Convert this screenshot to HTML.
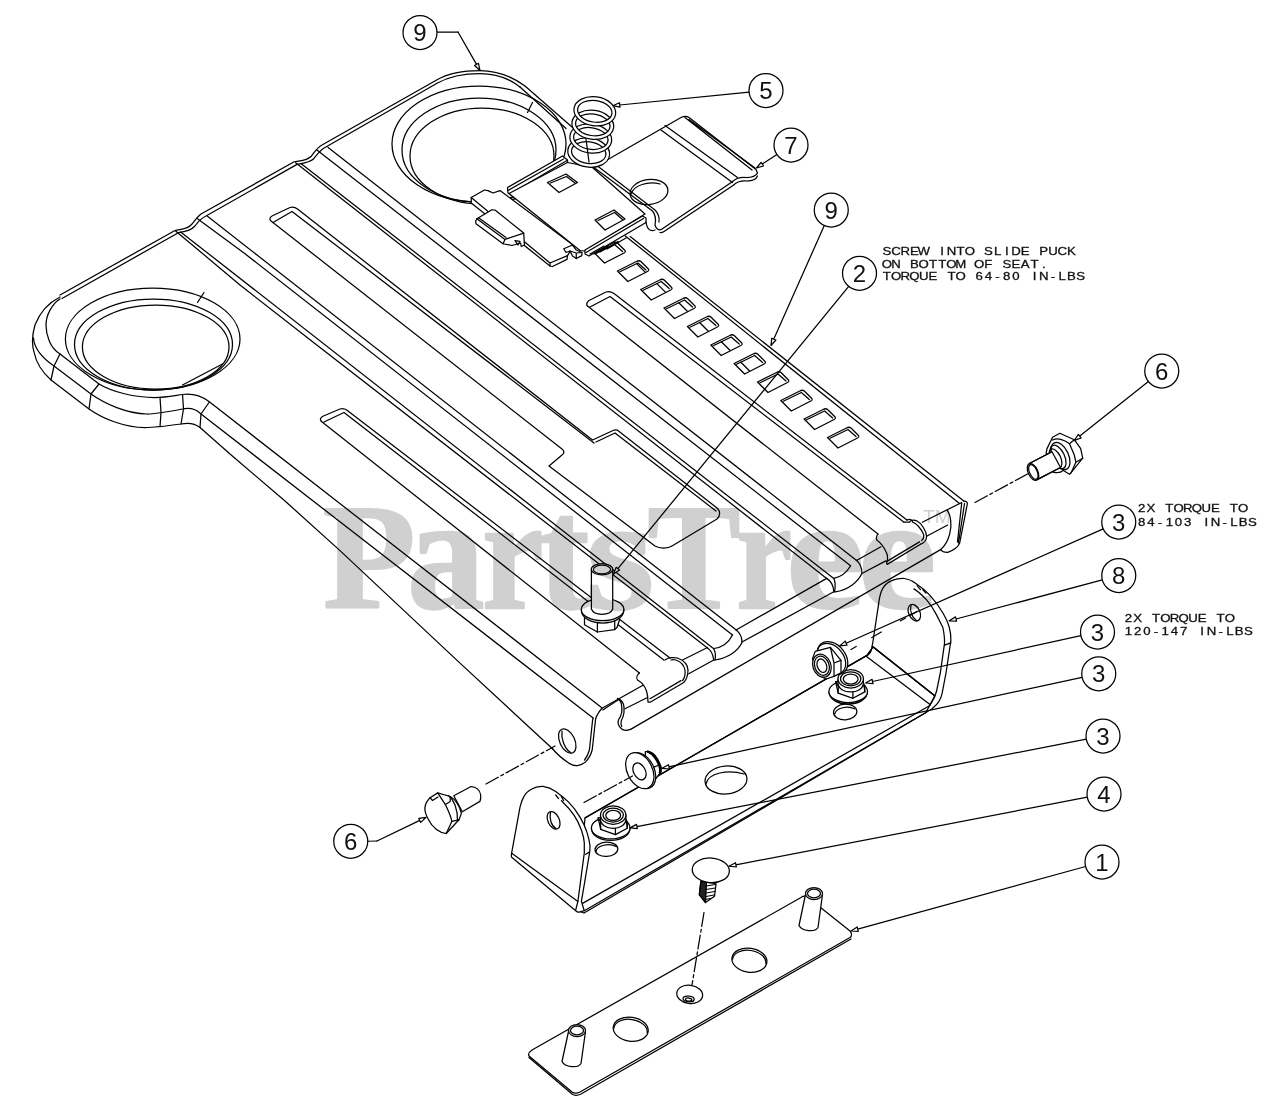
<!DOCTYPE html>
<html><head><meta charset="utf-8"><title>Seat pan diagram</title>
<style>
html,body{margin:0;padding:0;background:#fff;}
body{width:1280px;height:1120px;overflow:hidden;font-family:"Liberation Sans",sans-serif;}
svg{display:block}
.ln path,.ln ellipse,.ln circle,.ln polygon,.ln polyline{stroke:#000;stroke-width:1.25;stroke-linecap:round;stroke-linejoin:round}
.bn{font-family:"Liberation Sans",sans-serif;font-size:24px;text-anchor:middle;fill:#111;stroke:none}
.nt{font-family:"Liberation Sans",sans-serif;font-size:11.6px;fill:#111;stroke:#111;stroke-width:0.3;text-anchor:middle}
.wm{font-family:"Liberation Serif",serif;font-weight:bold;fill:#d0d0d0;stroke:#d0d0d0;stroke-width:2.2;stroke-linejoin:round;mix-blend-mode:multiply}
</style></head><body>
<svg width="1280" height="1120" viewBox="0 0 1280 1120">
<rect width="1280" height="1120" fill="#fff"/>
<g class="ln" fill="none">
<path d="M60,297 C50,302 40,312 35,325 C32,335 32,345 34,352 C36,362 42,372 51,380 L89,409 C103,419 125,427.5 145,427.5 C152,427.5 170,425.5 181,424 C188,422.5 195,423.5 200,427.5 L230,454 L285,501 L340,550.6 L460,663.1 L552.5,748.75" />
<path d="M33.5,338 C34,346 38,355 54,366 L91,394 C105,404 127,413.5 147,414 C155,414 172,411 182.5,409 C190,407.5 196,409 201,414 L593.1,718.1" />
<path d="M60,299 C52,304 46,315 46,325 C46,335 50,348 60,354 L99,384 C112,392 135,397.5 155,397.5 C165,397.5 175,395.5 182.5,394.5 C190,393.5 200,395 209,401.5 L601.5,707.5" />
<path d="M60,354 L54,366 L51,380 M99,384 L91,394 L89,409 M160,397.5 L161,412.5 L160,426.5 M182.5,394.5 L183.5,409 L181,424 M209,402.5 L201,414 L200,427.5" />
<path d="M60,295 L175,230.5 C179,229 186,230 191,225 C194,222 196,218 201,214 L293.75,162 C298,160.5 306,161.5 311.25,156.25 C314,153 317,147.5 322,145 L437.5,79.5 C447,74 462,70.5 480,70.5 C498,70.5 514,78 525,86 L572,127" />
<path d="M62,298.5 L178.75,232.5 C182,232 190,231.5 195,226 C197,223 200,219 206,216 L297,164.4 C301,163.5 309,163 313.75,158.75 C316.5,155.5 320,150 325,147.5 L437.5,83 C447,77.5 462,73.5 480,73.5 C496,73.5 510,79 520,87" />
<ellipse cx="152.7" cy="339" rx="87.3" ry="51" fill="none" />
<ellipse cx="153.5" cy="344.5" rx="79" ry="45.5" fill="none" />
<ellipse cx="155.7" cy="347" rx="73.3" ry="42" fill="none" />
<path d="M182.5,385L222.5,364" />
<path d="M197.5,302.5L204,292.5" />
<ellipse cx="479" cy="144" rx="87" ry="58" fill="none" />
<ellipse cx="479" cy="150" rx="77" ry="52" fill="none" />
<ellipse cx="482" cy="156" rx="72" ry="48" fill="none" />
<path d="M527.5,112.5L532.5,102.5" />
<path d="M520,87L566,128.5" />
<path d="M175.6,230.9 L240,285 L320,347.5 L707.5,648" />
<path d="M180.6,231.9L713.75,648.75" />
<path d="M197.5,218.75 L245,253.75 L732.5,635" />
<path d="M207.5,216.25L736.25,630" />
<path d="M295.6,162.8L826.7,578.4" />
<path d="M301.25,163.75L833.8,578.4" />
<path d="M316.9,150L850.6,565.8" />
<path d="M328.1,147.5L856.3,560.2" />
<path d="M321.5,421.5 C319.5,419.5 320.5,417.5 323.5,416 L340,409 C343,408 345.5,408.5 348,411 L670,658" />
<path d="M321.5,421.5 L639.4,673" />
<path d="M324,422 L344,412.5 L663.75,660" />
<path d="M271,221 C269,219 270,217 273,215.5 L290,207.5 C293,206.5 295,207 297.5,209 L592.5,440 L613,430.5 C615,429.5 617,429.5 618.5,431 L717,508 C720.5,511 720.5,516 717,519 L672,546 C668,548.5 660,549 655,546 L549,466 L562,455 C564.5,453.5 564.5,451 562,449 Z" />
<path d="M273,222.5 L292,211.5 L594,443 M596,442 L615,433 L716,511" />
<path d="M587.5,306 C586,304 587,302 589,300.5 L606,292 C609,291 611,291.5 614,293.5 L906.9,520" />
<path d="M587.5,306 L878,534.1" />
<path d="M590,307 L610,296.5 L904,522.2" />
<path d="M630.2,236.6L963.8,501.1" />
<path d="M625.3,235.9L959.5,503.5" />
<path d="M594.0,252.5 L613.0,243.0 Q615.5,241.5 617.5,243.0 L625.0,250.5 Q626.0,252.0 624.0,253.0 L604.5,263.0 Z" />
<path d="M596.5,253.3 L614.5,244.5 L622.5,251.5" />
<path d="M617.4,271.0 L636.4,261.5 Q638.9,260.0 640.9,261.5 L648.4,269.0 Q649.4,270.5 647.4,271.5 L627.9,281.5 Z" />
<path d="M619.9,271.8 L637.9,263.0 L645.9,270.0" />
<path d="M640.7,289.5 L659.7,280.0 Q662.2,278.5 664.2,280.0 L671.7,287.5 Q672.7,289.0 670.7,290.0 L651.2,300.0 Z" />
<path d="M643.2,290.3 L661.2,281.5 L669.2,288.5" />
<path d="M664.0,308.0 L683.0,298.5 Q685.5,297.0 687.5,298.5 L695.0,306.0 Q696.0,307.5 694.0,308.5 L674.5,318.5 Z" />
<path d="M666.5,308.8 L684.5,300.0 L692.5,307.0" />
<path d="M687.4,326.5 L706.4,317.0 Q708.9,315.5 710.9,317.0 L718.4,324.5 Q719.4,326.0 717.4,327.0 L697.9,337.0 Z" />
<path d="M689.9,327.3 L707.9,318.5 L715.9,325.5" />
<path d="M710.8,345.0 L729.8,335.5 Q732.2,334.0 734.2,335.5 L741.8,343.0 Q742.8,344.5 740.8,345.5 L721.2,355.5 Z" />
<path d="M713.2,345.8 L731.2,337.0 L739.2,344.0" />
<path d="M734.1,363.5 L753.1,354.0 Q755.6,352.5 757.6,354.0 L765.1,361.5 Q766.1,363.0 764.1,364.0 L744.6,374.0 Z" />
<path d="M736.6,364.3 L754.6,355.5 L762.6,362.5" />
<path d="M757.5,382.0 L776.5,372.5 Q779.0,371.0 781.0,372.5 L788.5,380.0 Q789.5,381.5 787.5,382.5 L768.0,392.5 Z" />
<path d="M760.0,382.8 L778.0,374.0 L786.0,381.0" />
<path d="M780.8,400.5 L799.8,391.0 Q802.3,389.5 804.3,391.0 L811.8,398.5 Q812.8,400.0 810.8,401.0 L791.3,411.0 Z" />
<path d="M783.3,401.3 L801.3,392.5 L809.3,399.5" />
<path d="M804.1,419.0 L823.1,409.5 Q825.6,408.0 827.6,409.5 L835.1,417.0 Q836.1,418.5 834.1,419.5 L814.6,429.5 Z" />
<path d="M806.6,419.8 L824.6,411.0 L832.6,418.0" />
<path d="M827.5,437.5 L846.5,428.0 Q849.0,426.5 851.0,428.0 L858.5,435.5 Q859.5,437.0 857.5,438.0 L838.0,448.0 Z" />
<path d="M830.0,438.3 L848.0,429.5 L856.0,436.5" />
<path d="M636.6,263.6 L645.1,272.1" />
<path d="M656.9,283.6 L665.4,292.1" />
<path d="M678.8,302.8 L687.3,311.3" />
<path d="M699.6,322.5 L708.1,331.0" />
<path d="M721.4,341.8 L729.9,350.3" />
<path d="M740.9,362.2 L749.4,370.7" />
<path d="M625,708.75 L647.5,697.5" />
<path d="M630.6,729.4 L940.6,549.6" />
<path d="M639.4,673 C637,675 636,678 637.5,680 C641,682 645,686 646.5,691 C648,696 648,700 648,702 L650.6,702 L683.75,682.5 C686,680 688,675 688,670 C688,665 685,661 677.5,658 C674,657 668,657.5 665,660" />
<path d="M650,698.75 L681,680.6 M682.5,680.6 C684.5,678 685.5,674 685,670 C684,665 680,661.5 676,660 C674,659.5 672,659.5 671,660" />
<path d="M682.5,660 L707.5,647.5 M688.75,673.75 L713.75,660" />
<path d="M707.5,648 C711,650 713,655 713.75,660 M713.75,648.75 C715.5,652 715.8,656 715,660" />
<path d="M732.5,635 C729,642 722,647.5 713.75,648.5 M736.25,630 C740,633 742,637 742,642.5 C738,651 728,658 715,660" />
<path d="M736,630 L826.7,578.4 M742,642 L833.8,591.8" />
<path d="M826.7,578.4 C831,581 833.5,586 833.8,591.8 M833.8,578.4 C835.5,582 835.5,587 834.5,591.8" />
<path d="M850.6,565.8 C847,572 841,577 833.8,578.4 M856.3,560.2 C860,563 862,568 861.9,573.5 C858,582 848,590 835.2,591.8" />
<path d="M857,560.2 L880.9,546.8 M861.9,573.5 L885.8,560.9" />
<path d="M878,534.1 C876,536 876,539 877.3,540.5 C881,543 885,549 887,554 C888,558 887.5,561 886.5,563 L887.2,564.4 L920.9,544" />
<path d="M886.5,561.6 L919.5,541.9" />
<path d="M904,522.2 L909.7,522.2 C910,520.5 913,519.5 916.7,520.8 C921,523 926,530 926.6,536.3 C926.5,540 924,543 921,544" />
<path d="M906.9,520 C909,519 911,519 912.5,521 M912.5,522.2 C916,523 921,528 923.7,534.8 C924,537 923,539.5 921.6,540.5" />
<path d="M922.3,522.2 L961.7,502.5 M926.6,536.3 L947.7,525" />
<path d="M947,510.2 C951,515 952,526 949.8,533.4 C948,541 945,546 940.6,549.6" />
<path d="M963.8,501.1 C966,501 967.5,502 967.3,504 L959.6,543.3 C958,547 953,550.5 947.7,552.4 C945,552.5 942,551.5 940.6,549.6" />
<path d="M961.7,503 L957.5,541.9 M964.5,503.5 L958.5,543" />
<path d="M552.5,748.75 C556,753 562,758.5 568.75,763.1 C572,765 575,766 577.5,765.6 C581,765 583.5,763.5 585.5,761.9 C588,759.5 590.5,756 592.2,750 L595.6,719 C596.3,716.5 597.3,714.5 598.5,712.8 C599.5,711.3 600.6,709.8 602,708.3" />
<path d="M593.1,718.1 L592.6,720 L589.4,750 C588.3,754 586.5,757.5 584.5,760" />
<path d="M602,708.3 L643,685.3" />
<path d="M617.5,698.4 C620,700 621.5,702.5 621.7,706 C622,709 621.9,711 621.7,712.5 C621,716 619.5,718.5 618.4,720 C617.8,722 618,724 618.9,725.6 C619.8,727.5 621,728.8 622.2,729.4 C624,730.2 625.5,730.4 626.9,730.3 L630.6,729.4" />
<path d="M619.4,699 C622,701 623.8,704 624,706.9 L624,712.5 C623.5,716 622.3,719 621.2,721 C620.8,723 621,725 621.7,726.5" />
<path d="M602.8,710 L618.4,699.8" />
<ellipse cx="567.25" cy="741" rx="7.5" ry="13" fill="none" transform="rotate(-25 567.25 741)" />
<path d="M562,731 C561,738 564,748 570.5,752.5" />
<path d="M471.25,197.5 L484.4,190 L488,190.6 L493,193 L500,190.6 L573.75,245.6 L567.5,255.6 L567,259.4 L552.5,266.5 L550,266 L471.25,203 Z" fill="#fff" />
<path d="M471.25,197.5 L550,263 L567.5,255.6 M550,263 L550,266" />
<path d="M563.75,248.75 L572.5,245 L576.25,250 L581.9,252.5 L581.9,255.6 L576.25,258.5 L572.5,256 L570,251 L566,252.5 Z" fill="#fff" />
<path d="M570,251 L576.25,253 L576.25,258.5 M576.25,253 L581.9,252.5" />
<path d="M476.9,218.75 L491.9,209.75 L495,210 L523.75,233.1 L524.4,245 L521.25,246.5 L520.6,243 L512,245.5 L503,243.75 L476,223.75 L475.6,221.25 Z" fill="#fff" />
<path d="M476.9,218.75 L505,239.4 L523.75,233.1 M505,239.4 L503,243.75 M478.5,217.8 L506,237.5 M515,240.6 L520,241.3 L518,245 Z" />
<path d="M507.5,187.5 L562.5,156 L567.5,160 L567.5,164 L512.5,196 L508,193 Z" fill="#fff" />
<path d="M508,190.5 L563.5,159 M512.5,192.5 L567,160.5" />
<path d="M509,193.5 L567.5,162.5 L592.5,167.5 L645,214 L585,251 L580,250.5 Z" fill="#fff" />
<path d="M547.5,182.5 L566,174 L577.5,182.5 L559,192.5 Z M550.5,183 L566.5,176.5 L575,183" />
<path d="M595,220 L614,210 L625,219 L605,230 Z M598,220.5 L614.5,212.5 L622.5,219.5" />
<path d="M585,250 L642.5,216 L646,218 L646,222.5 L589,256 L585,254 Z" fill="#fff" />
<path d="M586,252.5 L643.5,218.5 M590,254 L604,246 M594,254 L608,246 M600,252 L618,241.5 M607,249 L626,238" />
<path d="M594,167.5 L652.5,211 C655,214 656,220 655,225 C656,229 659,231 662,229 L732,182 C736,178 741,177 746,177.5 C752,177.5 756,176 757.5,173 L756,169.5 L689,117.5 C687,116 684,116 681,117.5 Z" fill="#fff" />
<path d="M597.5,166 L655,210 C658,213 659.5,218 659,222" />
<path d="M661,130 L732.5,182.5 M665,125.5 L737.5,177.5 M689,119.5 L755,168 M685,117.5 L752,170" />
<path d="M655,230 C650,232 647,229 646,222" />
<path d="M660,232.5 C661,232.8 662.5,232.5 664,231.5 L733,185.5 C737,181.5 742,180.5 747,181 C752,181 756,179.5 757.5,176" />
<ellipse cx="649" cy="192" rx="19" ry="12.5" fill="none" transform="rotate(-8 649 192)" />
<path d="M631,194 C634,185 648,181 660,184" />
<path d="M567.7,152.6 a21,14.5 0 1,0 42,0 a21,14.5 0 1,0 -42,0 Z M571.4000000000001,152.6 a17.3,10.8 0 1,0 34.6,0 a17.3,10.8 0 1,0 -34.6,0 Z" fill="#fff" fill-rule="evenodd" transform="rotate(8 588.7 152.6)"/>
<path d="M569.8,138.5 a21,14.5 0 1,0 42,0 a21,14.5 0 1,0 -42,0 Z M573.5,138.5 a17.3,10.8 0 1,0 34.6,0 a17.3,10.8 0 1,0 -34.6,0 Z" fill="#fff" fill-rule="evenodd" transform="rotate(8 590.8 138.5)"/>
<path d="M571.8,124.8 a21,14.5 0 1,0 42,0 a21,14.5 0 1,0 -42,0 Z M575.5,124.8 a17.3,10.8 0 1,0 34.6,0 a17.3,10.8 0 1,0 -34.6,0 Z" fill="#fff" fill-rule="evenodd" transform="rotate(8 592.8 124.8)"/>
<path d="M573.8,111.3 a21,14.5 0 1,0 42,0 a21,14.5 0 1,0 -42,0 Z M577.5,111.3 a17.3,10.8 0 1,0 34.6,0 a17.3,10.8 0 1,0 -34.6,0 Z" fill="#fff" fill-rule="evenodd" transform="rotate(8 594.8 111.3)"/>
<path d="M586,139 L589,162" />
<path d="M584.5,617.5 L584.5,624.8 L597.4,632 L614.7,629.6 L617.1,627.2 L619.5,620 L619.5,614 Z" fill="#fff" />
<path d="M597.4,622.3 L597.4,632 M614.7,620.5 L614.7,629.6" />
<path d="M581.3,609.5 C581.3,627.5 623.9,627.5 623.9,609.5" fill="#fff" />
<ellipse cx="602.6" cy="609.5" rx="21.3" ry="11.2" fill="#fff" />
<path d="M591.4,569.3 L591.4,609 C594,616 610,616 612.7,609 L612.7,569.3 Z" fill="#fff" />
<ellipse cx="602" cy="569.3" rx="10.7" ry="5.6" fill="#fff" />
<ellipse cx="602" cy="569.5" rx="8.6" ry="4.3" fill="none" />
<path d="M585,818 L867,655.4 L873,647 L935,696 L929,709 L925.6,712.8 L584,913 L576,910 Z" fill="#fff" stroke="none"/>
<path d="M585,817.9L867,655.4" />
<path d="M866.5,656.4 C869,654.5 871,652 871.3,650 L872.9,642 L879.4,598.6 C880.5,593 881.5,590 883.4,587.3 C886,583.5 889,581.5 893,580.1 C897,578.5 900,578.3 904.3,578.5 C908,579 912,580.5 915.5,583.3 C921,587 926,591 930,595.4 C935,601 939.5,607 942.9,613 C945.5,617.5 948,622.5 949.3,627.5 C950.5,632 951,636 950.9,640.4 L946.1,672.5 L942.1,693.4 C941,698 939,702 936.4,704.6 C933.5,708 930,710.5 925.6,712.8 L929.5,705.8 L934.8,695.8 L873,646.8 Z" fill="#fff" />
<path d="M913.9,588.9 C919,592 923,596 926.8,600.2 C931,605 934,610 936.4,614.6 L942.9,627.5 C944,633 944.8,638 944.5,643.6 L940.4,672.5 L936.4,691.8 L934,698.2 C932.5,701 931,703.5 929.5,705.8" />
<path d="M917.1,585.7 L920.4,589.7 M922.8,589.7 L926,593 M944.5,645.2 L950.9,642.8" />
<path d="M873,646.8 L934.8,695.8 M866.5,656.4 L930,704.6" />
<ellipse cx="914.3" cy="612.7" rx="5.6" ry="8.8" fill="none" transform="rotate(-25 914.3 612.7)" />
<path d="M911,605 C909.5,611 912,618 916.5,620.5" />
<path d="M584.3,910.7 L925.6,712.8 M582.1,903.6 L929.5,705.8" />
<path d="M511.4,854.3 L520,807.1 C521,803 522,800 523.6,797.1 C525.5,793.5 528,791 531.4,789.3 C535,787 539,786.2 542.9,786.4 C547,787 551.5,788.5 555.7,791.4 C560,794.5 564.5,798 568.6,802.1 C573,806.5 577,812 580,817.1 C583,822 585.5,827.5 587.1,832.9 C588.5,837 589.5,841 590,845.7 C590,849 589.8,852 589.3,854.3 L584.3,884.3 L581.4,901.4 L584.3,910.7 L579.3,912.1 C578,912.3 577,912 575.7,910.7 L511.4,857.1 Z" fill="#fff" />
<path d="M561.4,800.7 C566,805 570.5,810 574.3,815.7 C577.5,820.5 579.5,825 581.4,830 C583,834.5 584,838.5 584.3,842.9 L584.3,852.9 L577.9,901.4 L575.7,910" />
<path d="M512.1,853.6 L577.9,901.4 M555.7,795 L558.6,798.6 M561.4,796.4 L563.6,800.7 M585.7,854.3 L589.3,852.1" />
<ellipse cx="553.6" cy="820.3" rx="5.7" ry="9.3" fill="none" transform="rotate(-25 553.6 820.3)" />
<path d="M550.5,812.5 C549,819 551.5,826 556,828.5" />
<ellipse cx="726" cy="780" rx="21" ry="14" fill="none" transform="rotate(-5 726 780)" />
<path d="M706,784 C708,773 728,769 744,774" />
<ellipse cx="606.4" cy="849.3" rx="11.4" ry="7.1" fill="none" transform="rotate(-3 606.4 849.3)" />
<path d="M596,851.5 C597,845 609,843 616,846.5" />
<ellipse cx="845.2" cy="712" rx="11.7" ry="7.8" fill="none" transform="rotate(-3 845.2 712)" />
<path d="M834.8,714 C836,707.5 848,705.5 855,709" />
<path d="M591.4000000000001,827.9 C591.4000000000001,844.4 630.0,844.4 630.0,827.9" fill="#fff" />
<ellipse cx="610.7" cy="827.9" rx="19.3" ry="11" fill="#fff" />
<path d="M598.1,817.9 L600.7,829.4 L615.4000000000001,834.6 L627.3000000000001,828.1999999999999 L626.3000000000001,819.9 L623.7,815.3 Z" fill="#fff" />
<path d="M598.1,817.9 L600.7,821.9 L615.4000000000001,826.9 L627.3000000000001,821.4 M600.7,821.9 L600.7,829.4 M615.4000000000001,826.9 L615.4000000000001,834.6 M627.3000000000001,821.4 L627.3000000000001,828.1999999999999" />
<path d="M600.5,815.1 L600.5,819.1 C600.5,831.336 625.9000000000001,831.336 625.9000000000001,819.1 L625.9000000000001,815.1 Z" fill="#fff" />
<ellipse cx="613.2" cy="815.1" rx="12.7" ry="9.2" fill="#fff" />
<ellipse cx="613.2" cy="815.1" rx="10.2" ry="7" fill="none" />
<ellipse cx="613.2" cy="815.4" rx="7.4" ry="5" fill="none" />
<path d="M828.9000000000001,691.6 C828.9000000000001,708.1 867.5,708.1 867.5,691.6" fill="#fff" />
<ellipse cx="848.2" cy="691.6" rx="19.3" ry="11" fill="#fff" />
<path d="M835.6,681.6 L838.2,693.1 L852.9000000000001,698.3000000000001 L864.8000000000001,691.9 L863.8000000000001,683.6 L861.2,679.0 Z" fill="#fff" />
<path d="M835.6,681.6 L838.2,685.6 L852.9000000000001,690.6 L864.8000000000001,685.1 M838.2,685.6 L838.2,693.1 M852.9000000000001,690.6 L852.9000000000001,698.3000000000001 M864.8000000000001,685.1 L864.8000000000001,691.9" />
<path d="M838.0,678.8000000000001 L838.0,682.8000000000001 C838.0,695.0360000000001 863.4000000000001,695.0360000000001 863.4000000000001,682.8000000000001 L863.4000000000001,678.8000000000001 Z" fill="#fff" />
<ellipse cx="850.7" cy="678.8000000000001" rx="12.7" ry="9.2" fill="#fff" />
<ellipse cx="850.7" cy="678.8000000000001" rx="10.2" ry="7" fill="none" />
<ellipse cx="850.7" cy="679.1" rx="7.4" ry="5" fill="none" />
<ellipse cx="832.5" cy="658" rx="18.2" ry="13.1" fill="#fff" transform="rotate(51.3 832.5 658)" />
<ellipse cx="831.3" cy="658.8" rx="17.2" ry="12.2" fill="none" transform="rotate(51.3 831.3 658.8)" />
<path d="M812.5,658.6 L815.2,651.4 L830.4,647.4 L841,660.4 L841,672.9 L834,676.4 L826,679 L818,675 Z" fill="#fff" />
<path d="M830.4,647.4 L834,663 L841,660.4 M834,663 L834,676.4" />
<ellipse cx="821.9" cy="665.7" rx="9" ry="11.8" fill="#fff" transform="rotate(-20 821.9 665.7)" />
<ellipse cx="821.9" cy="665.7" rx="7.2" ry="9.8" fill="none" transform="rotate(-20 821.9 665.7)" />
<ellipse cx="821.9" cy="665.7" rx="4.6" ry="7" fill="none" transform="rotate(-20 821.9 665.7)" />
<path d="M645.3,751.5 L650,751.9 C654,753 658.6,759.7 661.3,767.5 L660.9,772.2 L654.7,780 L646,786 Z" fill="#fff" />
<path d="M648,751.6 C653,753.5 658,760 660,767.5 C660.5,770 660.3,771.5 660,772.5" style="stroke-width:2.6" />
<path d="M653.9,767.1 L657.8,765.5 M653.9,767.1 L654.7,778.4" />
<ellipse cx="641.6" cy="770.6" rx="12.5" ry="19.2" fill="#fff" transform="rotate(-27 641.6 770.6)" />
<ellipse cx="639.8" cy="770.6" rx="12.5" ry="19.2" fill="#fff" transform="rotate(-27 639.8 770.6)" />
<ellipse cx="639.5" cy="771.4" rx="5.9" ry="9" fill="none" transform="rotate(-27 639.5 771.4)" />
<path d="M1046.2,452.6 L1047,448.6 L1052.6,437.3 L1059.8,433.3 L1074.3,439.7 L1080.7,448.6 L1082.7,458.2 L1071.1,472.7 L1069.5,474.3 L1063,470.3 C1060,474 1052,473 1050,470 Z" fill="#fff" />
<path d="M1074.3,439.7 L1069.5,443.8 L1074.3,455 L1075.9,462.3 L1082.7,458.2 M1075.9,462.3 L1071.1,472.7 M1052.6,440 C1058,437.5 1065,440 1069.5,443.8" />
<ellipse cx="1060.5" cy="456" rx="8" ry="14.5" fill="none" transform="rotate(-25 1060.5 456)" />
<ellipse cx="1058" cy="457" rx="6.6" ry="12.6" fill="none" transform="rotate(-25 1058 457)" />
<ellipse cx="1055.5" cy="458.5" rx="5.2" ry="10.2" fill="none" transform="rotate(-25 1055.5 458.5)" />
<path d="M1029.3,463.5 L1052,451.7 L1060.5,467.5 L1038.1,479.1 Z" fill="#fff" stroke="none"/>
<path d="M1029.3,463.5L1050.5,452.5" />
<path d="M1038.1,479.1L1059.5,468" />
<ellipse cx="1033" cy="472" rx="4.8" ry="9" fill="#fff" transform="rotate(-25 1033 472)" />
<ellipse cx="1033.4" cy="472" rx="3.8" ry="7.8" fill="none" transform="rotate(-25 1033.4 472)" />
<path d="M453.8,795.7 L471.1,786.5 C476,786.5 480,790 480.7,795 C481,798 480.5,800 479.9,801.4 L462.3,811.8 Z" fill="#fff" />
<path d="M437.7,792.9 L450.2,796.5 C455,799 460,806 461.4,813.4 L459,819.8 L446.2,833.5 L436,829 Z" fill="#fff" />
<path d="M448.6,795.7 C454,800 458,810 457.5,821" />
<path d="M424.9,807.8 C425.5,803 427.5,800 430.1,797.7 L437.7,792.9 L445.4,804.6 C448,810 451,816 451.8,821.4 L446.2,833.5 C442,833 439,831.5 436.5,829.5 C432,826 430,823 428.5,819.8 C426,815 424.5,811 424.9,807.8 Z" fill="#fff" />
<path d="M445.4,804.6 L450.2,801.4 L450.2,796.5 M451.8,821.4 L459,819.8 M430.1,797.7 L432.5,800.5 L438,797" />
<path d="M700.9,881.4 L699.3,894.7 L705.5,902.5 L714.5,896.25 L716.1,883.75 Z" fill="#fff" />
<path d="M700.9,881.4 L699.3,894.7 L705.5,902.5 L706.5,882 Z" fill="#222" />
<path d="M706,886 L715.5,884.5 M706,889.5 L715.2,888 M706,893 L714.8,891.5 M706,896.5 L714,895 M705.5,899.5 L710,898.5" />
<ellipse cx="710.8" cy="870.3" rx="18.6" ry="12.3" fill="#fff" transform="rotate(4 710.8 870.3)" />
<path d="M529,1056 C528,1054 529,1052 532,1050 L801,897.5 C803,896 806,896 808,897.5 L850,931 C852,933 852,936 850,937.5 L580,1092 C577,1093.5 574,1093.5 572,1092 Z" fill="#fff" />
<path d="M529,1057.5 L572,1094 C574,1095.5 578,1095.5 581,1094 L851,939" />
<ellipse cx="630.7" cy="1029.2" rx="17.6" ry="12" fill="none" transform="rotate(8 630.7 1029.2)" />
<path d="M613.9,1030.4 A16.8,11 0 0 1 647.5000000000001,1030.4" transform="rotate(8 630.7 1029.2)"/>
<ellipse cx="749.4" cy="960.2" rx="17.6" ry="12" fill="none" transform="rotate(8 749.4 960.2)" />
<path d="M732.5999999999999,961.4000000000001 A16.8,11 0 0 1 766.2,961.4000000000001" transform="rotate(8 749.4 960.2)"/>
<ellipse cx="689.7" cy="994.4" rx="13" ry="9.1" fill="none" transform="rotate(8 689.7 994.4)" />
<ellipse cx="688.6" cy="998.9" rx="5.6" ry="2.8" fill="none" transform="rotate(5 688.6 998.9)" />
<ellipse cx="688.6" cy="999.6" rx="3.2" ry="1.6" fill="none" transform="rotate(5 688.6 999.6)" />
<path d="M568.5,1031.5 L562,1061.5 C565,1067.5 578,1068.5 581,1063.5 L585.5,1031.5 Z" fill="#fff" />
<ellipse cx="577" cy="1030.5" rx="8.5" ry="6" fill="#fff" />
<ellipse cx="577" cy="1030.5" rx="6.5" ry="4.3" fill="none" />
<path d="M805.5,894.5 L799,925.5 C802,931.5 815,932.5 818,927.5 L822.5,894.5 Z" fill="#fff" />
<ellipse cx="814" cy="893.5" rx="8.5" ry="6" fill="#fff" />
<ellipse cx="814" cy="893.5" rx="6.5" ry="4.3" fill="none" />
<path d="M486,784L555,746" stroke-dasharray="14 3 3 3"/>
<path d="M975,502.5L1027.5,474" stroke-dasharray="14 3 3 3"/>
<path d="M584,802.5L632.5,776" stroke-dasharray="14 3 3 3"/>
<path d="M704,912.5L692,985" stroke-dasharray="14 3 3 3"/>
<path d="M851,649.5L908,616.5" stroke-dasharray="6 18 11 22"/>
<path d="M910,615.5L917,611.5" />
<path d="M437,32 L458,32" />
<path d="M458.0,32.0L476.5,64.4M474.6,65.5L480.0,70.5L478.4,63.3Z" fill="#fff"/>
<path d="M749.1,92.2L619.8,105.0M619.5,102.8L612.8,105.7L620.0,107.2Z" fill="#fff"/>
<path d="M776.9,154.4L762.3,164.1M761.1,162.3L756.5,168.0L763.5,165.9Z" fill="#fff"/>
<path d="M824.3,225.5L773.8,339.1M771.8,338.2L771.0,345.5L775.9,340.0Z" fill="#fff"/>
<path d="M848.7,286.4L617.9,568.7M616.2,567.3L613.5,574.1L619.6,570.1Z" fill="#fff"/>
<path d="M1148.4,381.6L1079.8,436.1M1078.4,434.4L1074.3,440.5L1081.1,437.9Z" fill="#fff"/>
<path d="M1103.2,528.9L846.1,643.2M845.2,641.1L839.7,646.0L847.0,645.2Z" fill="#fff"/>
<path d="M1102.3,579.9L956.1,619.0M955.5,616.9L949.3,620.8L956.6,621.1Z" fill="#fff"/>
<path d="M1080.9,635.7L872.5,681.5M872.1,679.3L865.7,683.0L873.0,683.6Z" fill="#fff"/>
<path d="M1082.1,677.3L668.9,766.8M668.5,764.7L662.1,768.3L669.4,769.0Z" fill="#fff"/>
<path d="M1086.3,739.2L636.9,826.6M636.5,824.4L630.0,827.9L637.3,828.7Z" fill="#fff"/>
<path d="M1087.3,797.2L735.9,864.9M735.5,862.7L729.0,866.2L736.3,867.0Z" fill="#fff"/>
<path d="M1085.6,866.5L857.7,929.1M857.2,927.0L851.0,931.0L858.3,931.3Z" fill="#fff"/>
<path d="M367.5,841.25 L377,841" />
<path d="M377.0,841.0L419.8,820.4M420.7,822.4L426.1,817.4L418.8,818.4Z" fill="#fff"/>
<circle cx="420" cy="32.5" r="17" fill="#fff"/>
<text x="420" y="41.1" class="bn">9</text>
<circle cx="766" cy="90.5" r="17" fill="#fff"/>
<text x="766" y="99.1" class="bn">5</text>
<circle cx="791" cy="145" r="17" fill="#fff"/>
<text x="791" y="153.6" class="bn">7</text>
<circle cx="831.25" cy="210" r="17" fill="#fff"/>
<text x="831.25" y="218.6" class="bn">9</text>
<circle cx="859.5" cy="273.25" r="17" fill="#fff"/>
<text x="859.5" y="281.85" class="bn">2</text>
<circle cx="1161.75" cy="371" r="17" fill="#fff"/>
<text x="1161.75" y="379.6" class="bn">6</text>
<circle cx="1118.75" cy="522" r="17" fill="#fff"/>
<text x="1118.75" y="530.6" class="bn">3</text>
<circle cx="1118.75" cy="575.5" r="17" fill="#fff"/>
<text x="1118.75" y="584.1" class="bn">8</text>
<circle cx="1097.5" cy="632" r="17" fill="#fff"/>
<text x="1097.5" y="640.6" class="bn">3</text>
<circle cx="1098.75" cy="673.75" r="17" fill="#fff"/>
<text x="1098.75" y="682.35" class="bn">3</text>
<circle cx="1103" cy="736" r="17" fill="#fff"/>
<text x="1103" y="744.6" class="bn">3</text>
<circle cx="1104" cy="794" r="17" fill="#fff"/>
<text x="1104" y="802.6" class="bn">4</text>
<circle cx="1102" cy="862" r="17" fill="#fff"/>
<text x="1102" y="870.6" class="bn">1</text>
<circle cx="350.75" cy="841.25" r="17" fill="#fff"/>
<text x="350.75" y="849.85" class="bn">6</text>
<text transform="scale(1.14,1)" x="777.91 786.00 794.10 802.20 810.29 818.39 826.49 834.58 842.68 850.78 858.87 866.97 875.07 883.16 891.26 899.36 907.45 915.55 923.64 931.74 939.84" y="254.6" class="nt">SCREW INTO SLIDE PUCK</text>
<text transform="scale(1.14,1)" x="777.91 786.00 794.10 802.20 810.29 818.39 826.49 834.58 842.68 850.78 858.87 866.97 875.07 883.16 891.26 899.36 907.45 915.55" y="267.9" class="nt">ON BOTTOM OF SEAT.</text>
<text transform="scale(1.14,1)" x="777.91 786.00 794.10 802.20 810.29 818.39 826.49 834.58 842.68 850.78 858.87 866.97 875.07 883.16 891.26 899.36 907.45 915.55 923.64 931.74 939.84 947.93" y="280.4" class="nt">TORQUE TO 64-80 IN-LBS</text>
<text transform="scale(1.14,1)" x="1001.42 1009.51 1017.61 1025.71 1033.80 1041.90 1050.00 1058.09 1066.19 1074.29 1082.38 1090.48" y="512.5" class="nt">2X TORQUE TO</text>
<text transform="scale(1.14,1)" x="1001.42 1009.51 1017.61 1025.71 1033.80 1041.90 1050.00 1058.09 1066.19 1074.29 1082.38 1090.48 1098.57" y="525.75" class="nt">84-103 IN-LBS</text>
<text transform="scale(1.14,1)" x="989.79 997.89 1005.99 1014.08 1022.18 1030.28 1038.37 1046.47 1054.57 1062.66 1070.76 1078.86" y="622" class="nt">2X TORQUE TO</text>
<text transform="scale(1.14,1)" x="989.79 997.89 1005.99 1014.08 1022.18 1030.28 1038.37 1046.47 1054.57 1062.66 1070.76 1078.86 1086.95 1095.05" y="635" class="nt">120-147 IN-LBS</text>
</g>
<g class="wm">
<text transform="translate(322.93,607.5) scale(1.024,1.01)" font-size="148">P</text>
<text transform="translate(407.28,607.5) scale(1.045,1.09)" font-size="148">a</text>
<text transform="translate(482.27,607.5) scale(0.932,1.09)" font-size="148">r</text>
<text transform="translate(538.96,607.5) scale(1.021,1.09)" font-size="148">t</text>
<text transform="translate(586.08,607.5) scale(1.184,1.09)" font-size="148">s</text>
<text transform="translate(647.62,607.5) scale(0.941,1.01)" font-size="148">T</text>
<text transform="translate(736.61,607.5) scale(0.847,1.09)" font-size="148">r</text>
<text transform="translate(786.04,607.5) scale(1.193,1.09)" font-size="148">e</text>
<text transform="translate(858.04,607.5) scale(1.193,1.09)" font-size="148">e</text>

<text x="923" y="523" font-size="19.2" style="font-family:'Liberation Sans',sans-serif;font-weight:normal;stroke:none">TM</text>
</g></svg>
</body></html>
